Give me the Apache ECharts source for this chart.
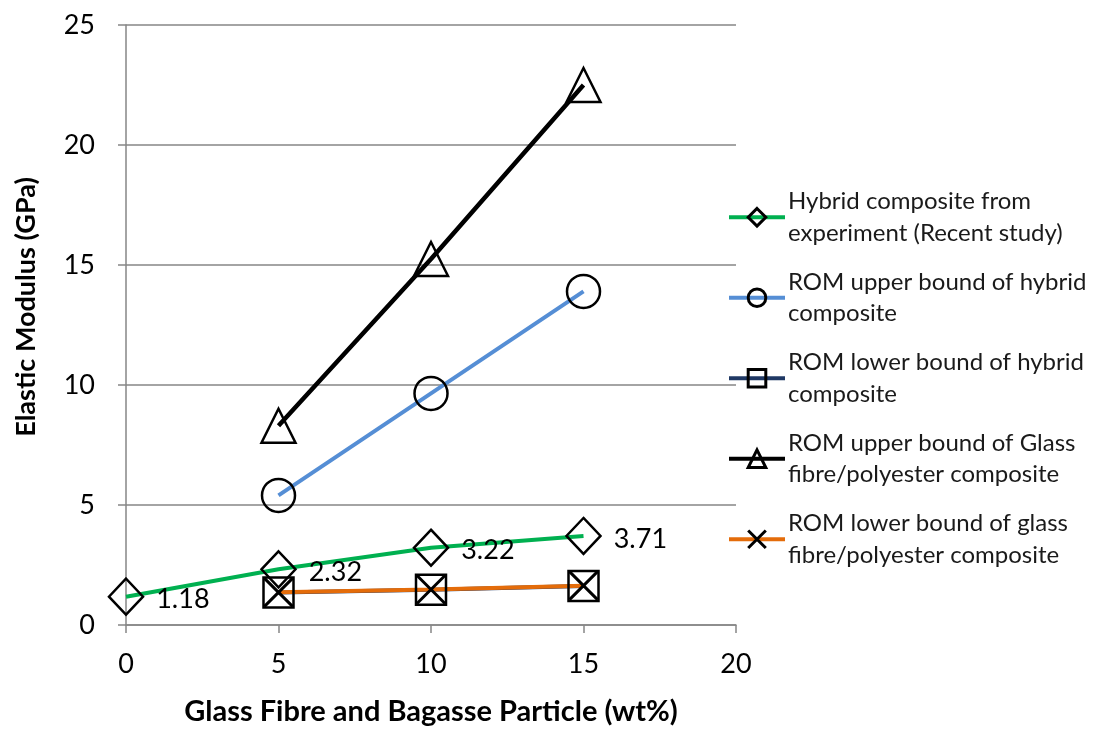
<!DOCTYPE html>
<html>
<head>
<meta charset="utf-8">
<script src="https://cdn.jsdelivr.net/npm/echarts@6/dist/echarts.min.js"></script>
<style>html,body{margin:0;padding:0;background:#fff}#c{width:1097px;height:731px}</style>
</head>
<body>
<div id="c"></div>
<script>
const xValues = [0, 5, 10, 15];
const xValuesROM = [5, 10, 15];
const hybridExperiment = [1.18, 2.32, 3.22, 3.71];
const romUpperHybrid = [5.4, 9.65, 13.9];
const romLowerHybrid = [1.35, 1.47, 1.62];
const romUpperGlass = [8.3, 15.25, 22.5];
const romLowerGlass = [1.36, 1.48, 1.64];
const seriesNames = [
  'Hybrid composite from\nexperiment (Recent study)',
  'ROM upper bound of hybrid\ncomposite',
  'ROM lower bound of hybrid\ncomposite',
  'ROM upper bound of Glass\nfibre/polyester composite',
  'ROM lower bound of glass\nfibre/polyester composite'
];
const xTicks = [0, 5, 10, 15, 20];
const yTicks = [0, 5, 10, 15, 20, 25];

const FONT = 'Lato, "Open Sans", sans-serif';
const pair = (xs, ys) => xs.map((x, i) => [x, ys[i]]);
const xPath = 'path://M0,0L10,10M10,0L0,10';

function mk(name, data, lineColor, lineWidth, symbol, size, extra) {
  return Object.assign({
    name: name,
    type: 'line',
    data: data,
    symbol: symbol,
    symbolSize: size,
    showAllSymbol: true,
    lineStyle: { color: lineColor, width: lineWidth },
    itemStyle: { color: 'rgba(0,0,0,0)', borderColor: '#000', borderWidth: 2.5 },
    emphasis: { disabled: true },
    animation: false
  }, extra || {});
}

const chart = echarts.init(document.getElementById('c'));
chart.setOption({
  backgroundColor: '#fff',
  textStyle: { fontFamily: FONT },
  grid: { left: 126, right: 361, top: 25, bottom: 105 },
  xAxis: {
    type: 'value', min: xTicks[0], max: xTicks[xTicks.length - 1], interval: 5,
    name: 'Glass Fibre and Bagasse Particle (wt%)',
    nameLocation: 'middle', nameGap: 72,
    nameTextStyle: { fontFamily: FONT, fontWeight: 'bold', fontSize: 29, color: '#000' },
    axisLine: { show: true, lineStyle: { color: '#868686', width: 1.5 } },
    axisTick: { show: true, inside: false, length: 8, lineStyle: { color: '#868686', width: 1.5 } },
    axisLabel: { fontFamily: FONT, fontSize: 27, color: '#000', margin: 26 },
    splitLine: { show: false }
  },
  yAxis: {
    type: 'value', min: yTicks[0], max: yTicks[yTicks.length - 1], interval: 5,
    name: 'Elastic Modulus (GPa)',
    nameLocation: 'middle', nameGap: 86,
    nameTextStyle: { fontFamily: FONT, fontWeight: 'bold', fontSize: 27, color: '#000', padding: [0, 0, 0, 36] },
    axisLine: { show: true, lineStyle: { color: '#868686', width: 1.5 } },
    axisTick: { show: true, inside: false, length: 8, lineStyle: { color: '#868686', width: 1.5 } },
    axisLabel: { fontFamily: FONT, fontSize: 27, color: '#000', margin: 31 },
    splitLine: { show: true, lineStyle: { color: '#868686', width: 1.5 } }
  },
  legend: {
    orient: 'vertical',
    left: 727, top: 170, padding: 0,
    itemWidth: 56, itemHeight: 22, itemGap: -14,
    data: seriesNames,
    selectedMode: false,
    itemStyle: { borderWidth: 3 },
    lineStyle: { width: 4 },
    textStyle: { fontFamily: FONT, fontSize: 24, color: '#1a1a1a', lineHeight: 31.5, padding: [31.5, 0, 0, -2] }
  },
  series: [
    mk(seriesNames[0], pair(xValues, hybridExperiment), '#00B050', 4, 'diamond', [34, 36], {
      label: { show: true, position: 'right', distance: 12, fontFamily: FONT, fontSize: 27, color: '#000',
               offset: [0, 3], formatter: p => p.value[1].toFixed(2) },
      z: 5
    }),
    mk(seriesNames[1], pair(xValuesROM, romUpperHybrid), '#558ED5', 4, 'circle', 33),
    mk(seriesNames[2], pair(xValuesROM, romLowerHybrid), '#1F3864', 4, 'rect', 30, { itemStyle: { color: 'rgba(0,0,0,0)', borderColor: '#000', borderWidth: 2.5 } }),
    mk(seriesNames[3], pair(xValuesROM, romUpperGlass), '#000000', 4.5, 'triangle', 34),
    mk(seriesNames[4], pair(xValuesROM, romLowerGlass), '#E46C0A', 4, xPath, 28, { itemStyle: { color: 'rgba(0,0,0,0)', borderColor: '#000', borderWidth: 3 } })
  ]
});
</script>
</body>
</html>
